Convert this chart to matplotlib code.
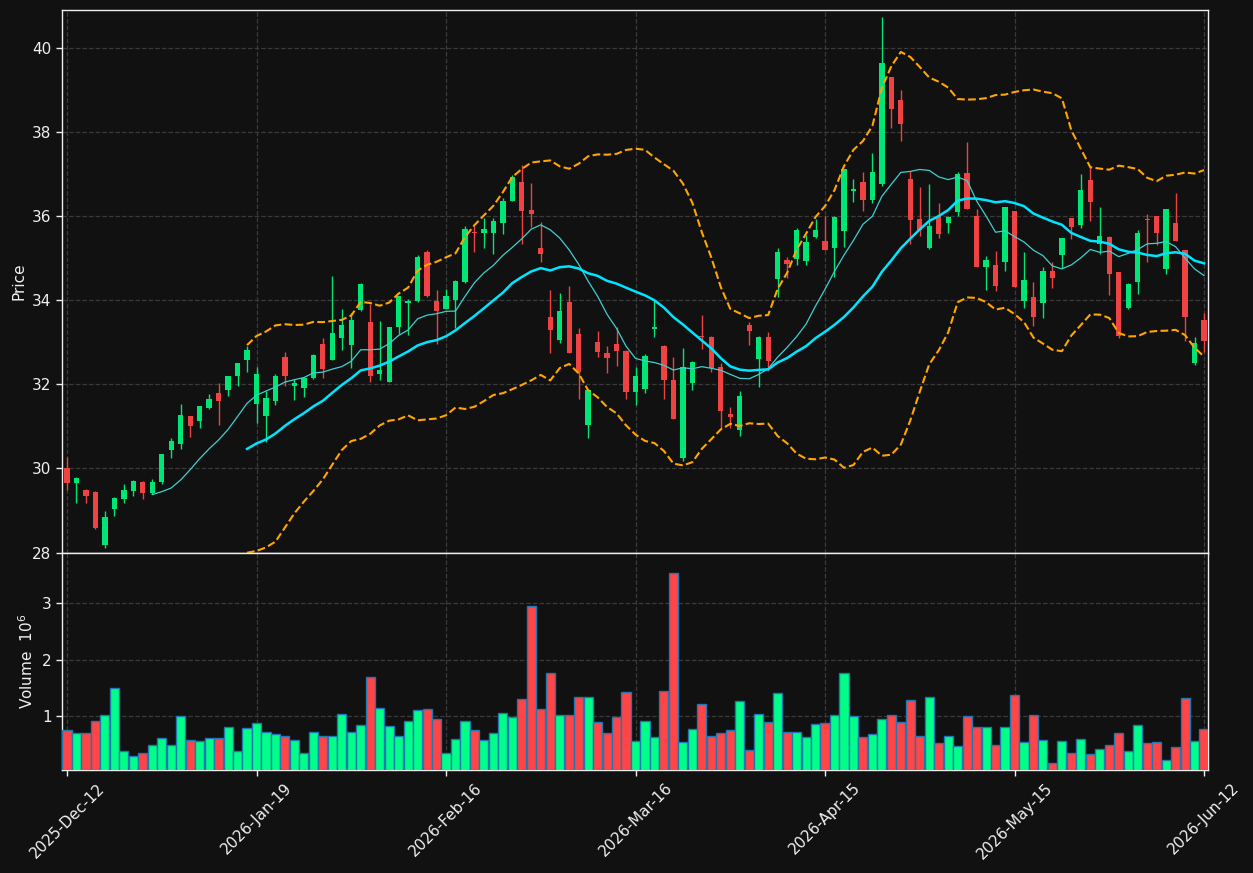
import numpy as np
import pandas as pd
import matplotlib
matplotlib.use("Agg")
import matplotlib.pyplot as plt
from matplotlib.ticker import FixedLocator, FormatStrFormatter

# ---------------- data ----------------
opens = [30.01, 29.66, 29.49, 29.44, 28.17, 29.04, 29.27, 29.46, 29.68, 29.42,
         29.67, 30.44, 30.59, 31.24, 31.13, 31.43, 31.79, 31.86, 32.20, 32.58,
         31.54, 31.25, 31.60, 32.65, 31.97, 31.92, 32.16, 32.96, 32.59, 33.09,
         32.94, 33.77, 33.48, 32.25, 32.06, 33.37, 33.94, 33.97, 35.14, 33.98,
         33.80, 34.01, 34.44, 35.63, 35.59, 35.59, 35.83, 36.37, 36.82, 36.15,
         35.25, 33.60, 33.06, 33.96, 33.20, 31.03, 33.01, 32.75, 32.97, 32.80,
         31.82, 31.90, 33.31, 32.92, 32.11, 30.26, 32.02, 33.16, 33.13, 32.42,
         31.30, 30.92, 33.42, 32.61, 33.13, 34.51, 34.95, 34.98, 34.93, 35.51,
         35.40, 35.25, 35.65, 36.60, 36.81, 36.38, 36.76, 39.30, 38.77, 36.88,
         35.93, 35.25, 36.01, 35.83, 36.10, 37.02, 36.00, 34.79, 34.84, 34.92,
         36.12, 33.99, 34.08, 33.94, 34.70, 35.08, 35.95, 35.79, 36.85, 35.33,
         35.51, 34.67, 33.82, 34.44, 35.93, 36.00, 34.75, 35.83, 35.19, 32.51,
         33.53]
highs = [30.28, 29.79, 29.50, 29.46, 29.00, 29.31, 29.62, 29.72, 29.69, 29.75,
         30.35, 30.72, 31.53, 31.25, 31.49, 31.78, 32.03, 32.20, 32.51, 32.91,
         32.42, 31.83, 32.24, 32.76, 32.12, 32.17, 32.71, 33.10, 34.58, 33.79,
         33.69, 34.40, 33.91, 33.50, 33.37, 34.11, 34.02, 35.08, 35.20, 34.24,
         34.27, 34.47, 35.77, 35.77, 35.95, 35.95, 36.43, 36.97, 37.22, 36.79,
         35.87, 34.24, 34.17, 34.34, 33.33, 31.89, 33.27, 32.90, 33.37, 32.82,
         32.41, 32.73, 33.97, 32.93, 32.65, 32.87, 32.55, 33.65, 33.14, 32.51,
         31.46, 31.83, 33.49, 33.14, 33.25, 35.25, 35.03, 35.71, 35.56, 35.94,
         36.00, 36.00, 37.11, 36.89, 37.04, 37.50, 40.74, 39.31, 39.00, 37.08,
         36.68, 36.77, 36.30, 36.00, 37.04, 37.75, 36.16, 35.04, 35.17, 36.22,
         36.13, 35.14, 34.44, 34.80, 34.92, 35.48, 35.96, 36.99, 37.17, 36.21,
         35.53, 34.68, 34.40, 35.67, 36.05, 36.01, 36.17, 36.54, 35.20, 33.12,
         33.69]
lows = [29.49, 29.17, 29.17, 28.55, 28.10, 28.88, 29.17, 29.35, 29.28, 29.40,
        29.64, 30.25, 30.47, 30.74, 30.96, 31.41, 31.04, 31.72, 31.96, 32.30,
        31.09, 30.64, 31.50, 31.96, 31.62, 31.69, 32.13, 32.14, 32.58, 32.81,
        32.40, 33.74, 32.06, 32.10, 32.05, 33.20, 33.17, 33.96, 34.08, 32.95,
        33.79, 33.33, 34.42, 35.14, 35.25, 35.11, 35.57, 36.36, 35.33, 35.74,
        34.90, 32.74, 32.98, 32.75, 31.64, 30.73, 32.64, 32.26, 32.44, 31.64,
        31.52, 31.79, 33.13, 31.65, 31.17, 30.17, 31.86, 32.84, 32.29, 30.96,
        30.96, 30.76, 32.93, 31.94, 32.31, 34.08, 34.54, 34.83, 34.84, 35.47,
        35.20, 34.56, 35.26, 36.34, 36.13, 36.30, 36.72, 38.09, 37.79, 35.33,
        35.53, 35.21, 35.49, 35.60, 36.00, 36.17, 34.80, 34.25, 34.21, 34.70,
        34.32, 33.81, 33.38, 33.57, 34.30, 34.77, 35.45, 35.71, 35.88, 35.11,
        34.13, 33.10, 33.78, 34.14, 34.92, 35.31, 34.62, 35.41, 33.04, 32.47,
        32.78]
closes = [29.66, 29.77, 29.35, 28.58, 28.85, 29.30, 29.49, 29.70, 29.42, 29.68,
          30.34, 30.65, 31.27, 31.01, 31.48, 31.64, 31.60, 32.19, 32.50, 32.81,
          32.25, 31.67, 32.20, 32.21, 32.03, 32.16, 32.70, 32.37, 33.22, 33.41,
          33.53, 34.39, 32.21, 32.34, 33.36, 34.10, 33.99, 35.03, 34.09, 33.75,
          34.09, 34.46, 35.70, 35.59, 35.70, 35.89, 36.37, 36.93, 36.13, 36.04,
          35.10, 33.29, 33.75, 32.75, 32.30, 31.87, 32.77, 32.63, 32.79, 31.82,
          32.20, 32.68, 33.37, 32.10, 31.17, 32.41, 32.54, 33.12, 32.40, 31.36,
          31.23, 31.73, 33.26, 33.13, 32.55, 35.14, 34.87, 35.67, 35.38, 35.67,
          35.20, 35.99, 37.11, 36.64, 36.38, 37.04, 39.63, 38.54, 38.18, 35.91,
          35.67, 35.76, 35.57, 35.99, 37.00, 36.17, 34.80, 34.96, 34.34, 36.22,
          34.32, 34.48, 33.61, 34.70, 34.54, 35.48, 35.75, 36.63, 36.34, 35.53,
          34.62, 33.16, 34.39, 35.60, 35.91, 35.60, 36.17, 35.41, 33.61, 32.98,
          33.04]
volumes_m = [0.75, 0.70, 0.70, 0.91, 1.02, 1.50, 0.38, 0.29, 0.35, 0.49,
             0.61, 0.50, 1.00, 0.58, 0.56, 0.61, 0.61, 0.81, 0.38, 0.79,
             0.88, 0.73, 0.68, 0.65, 0.58, 0.36, 0.73, 0.66, 0.66, 1.04,
             0.73, 0.84, 1.69, 1.14, 0.82, 0.65, 0.91, 1.11, 1.12, 0.96,
             0.35, 0.59, 0.91, 0.75, 0.58, 0.70, 1.05, 0.98, 1.30, 2.95,
             1.12, 1.76, 1.02, 1.02, 1.34, 1.34, 0.89, 0.70, 0.98, 1.42,
             0.56, 0.91, 0.63, 1.44, 3.53, 0.54, 0.77, 1.21, 0.65, 0.70,
             0.75, 1.27, 0.40, 1.04, 0.89, 1.41, 0.72, 0.73, 0.63, 0.86,
             0.88, 1.02, 1.76, 1.00, 0.63, 0.68, 0.95, 1.02, 0.89, 1.28,
             0.65, 1.34, 0.52, 0.65, 0.47, 1.00, 0.81, 0.81, 0.50, 0.81,
             1.37, 0.54, 1.02, 0.58, 0.17, 0.56, 0.36, 0.59, 0.33, 0.43,
             0.49, 0.70, 0.38, 0.84, 0.52, 0.54, 0.22, 0.45, 1.32, 0.56,
             0.77]
tick_labels = ["2025-Dec-12", "2026-Jan-19", "2026-Feb-16", "2026-Mar-16",
               "2026-Apr-15", "2026-May-15", "2026-Jun-12"]

# ---------------- style ----------------
BG = "#111111"
UP_C, DN_C = "#00e676", "#ef4343"
UP_V, DN_V = "#00ff88", "#ff4545"
GRID = "#3a3a3a"
TXT = "#f0f0f0"

o = np.array(opens); h = np.array(highs); l = np.array(lows); c = np.array(closes)
v = np.array(volumes_m)
n = len(c)
x = np.arange(n)
up = c >= o

s = pd.Series(c)
ma10 = s.rolling(10).mean()
ma20 = s.rolling(20).mean()
sd20 = s.rolling(20).std(ddof=0)
bb_up = ma20 + 2 * sd20
bb_lo = ma20 - 2 * sd20

fig = plt.figure(figsize=(12.53, 8.73), dpi=100, facecolor=BG)
ax1 = fig.add_axes([0.04948, 0.36655, 0.91460, 0.62200])
ax2 = fig.add_axes([0.04948, 0.11798, 0.91460, 0.24857], sharex=ax1)

for ax in (ax1, ax2):
    ax.set_facecolor(BG)
    for sp in ax.spines.values():
        sp.set_color("#f0f0f0")
        sp.set_linewidth(1.0)
    ax.grid(True, color=GRID, linestyle="--", linewidth=0.9)
    ax.set_axisbelow(True)
    ax.tick_params(colors=TXT, labelsize=11, length=4, width=1)

# candles
ccol = np.where(up, UP_C, DN_C)
ax1.vlines(x, l, h, colors=ccol, linewidth=1.0, zorder=3)
body_lo = np.minimum(o, c)
body_h = np.maximum(np.abs(c - o), 0.02)
ax1.bar(x, body_h, bottom=body_lo, width=0.56, color=ccol, linewidth=0, zorder=4)

# moving averages and bands
ax1.plot(x, ma10, color="#3fcfcf", linewidth=0.9, zorder=5)
ax1.plot(x, ma20, color="#00e5ff", linewidth=1.8, zorder=5)
ax1.plot(x, bb_up, color="#ffa500", linewidth=1.5, linestyle="--", zorder=5)
ax1.plot(x, bb_lo, color="#ffa500", linewidth=1.5, linestyle="--", zorder=5)

ax1.set_ylim(27.99, 40.9)
ax1.yaxis.set_major_locator(FixedLocator(np.arange(28, 41, 2)))
ax1.yaxis.set_major_formatter(FormatStrFormatter("%d"))
ax1.set_ylabel("Price", color=TXT, fontsize=11)
plt.setp(ax1.get_xticklabels(), visible=False)

# volume
vcol = np.where(up, UP_V, DN_V)
ax2.bar(x, v, width=0.96, color=vcol, edgecolor="#1f77b4", linewidth=1.0, zorder=3)
ax2.set_ylim(0.3 * v.min(), 1.1 * v.max())
ax2.yaxis.set_major_locator(FixedLocator([1, 2, 3]))
ax2.yaxis.set_major_formatter(FormatStrFormatter("%d"))
ax2.set_ylabel("Volume  $10^{6}$", color=TXT, fontsize=11)

tick_pos = np.arange(0, n, 20)
ax2.set_xticks(tick_pos)
ax2.set_xticklabels(tick_labels, rotation=45, color=TXT, fontsize=11)
ax1.set_xlim(-0.53, n - 1 + 0.42)

fig.savefig("out.png", dpi=100, facecolor=BG)
